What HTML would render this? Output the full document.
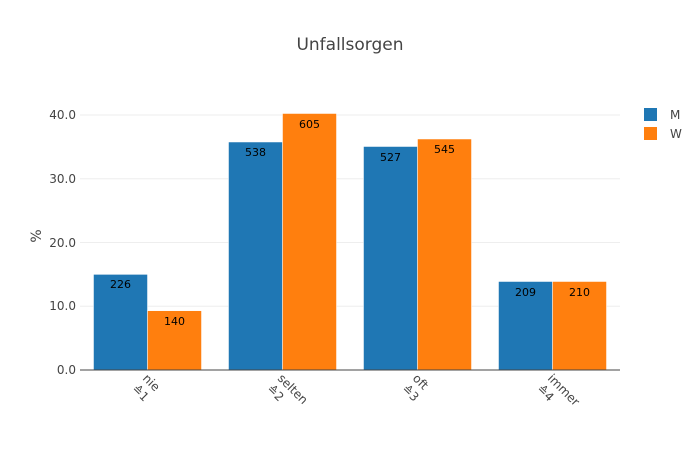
<!DOCTYPE html>
<html><head><meta charset="utf-8"><style>body{margin:0;background:#fff}svg{display:block;font-family:"DejaVu Sans","Liberation Sans",sans-serif}</style></head>
<body>
<svg width="700" height="450" xmlns="http://www.w3.org/2000/svg">
<rect width="700" height="450" fill="#fff"/>
<g stroke="#eee" stroke-width="1">
<line x1="80" x2="620" y1="306.25" y2="306.25"/>
<line x1="80" x2="620" y1="242.5" y2="242.5"/>
<line x1="80" x2="620" y1="178.75" y2="178.75"/>
<line x1="80" x2="620" y1="115" y2="115"/>
</g>
<g stroke="#fff" stroke-width="0.5">
<rect x="93.5" y="274.4" width="54" height="95.6" fill="#1f77b4"/>
<rect x="147.5" y="310.7" width="54" height="59.3" fill="#ff7f0e"/>
<rect x="228.5" y="142" width="54" height="228" fill="#1f77b4"/>
<rect x="282.5" y="113.5" width="54" height="256.5" fill="#ff7f0e"/>
<rect x="363.5" y="146.5" width="54" height="223.5" fill="#1f77b4"/>
<rect x="417.5" y="139" width="54" height="231" fill="#ff7f0e"/>
<rect x="498.5" y="281.5" width="54" height="88.5" fill="#1f77b4"/>
<rect x="552.5" y="281.5" width="54" height="88.5" fill="#ff7f0e"/>
</g>
<line x1="80" x2="620" y1="370" y2="370" stroke="#444" stroke-width="1"/>
<g font-size="11" fill="#000" text-anchor="middle">
<text x="120.5" y="288">226</text><text x="174.5" y="325">140</text>
<text x="255.5" y="156">538</text><text x="309.5" y="128">605</text>
<text x="390.5" y="161">527</text><text x="444.5" y="153">545</text>
<text x="525.5" y="296">209</text><text x="579.5" y="296">210</text>
</g>
<g font-size="12" fill="#444" text-anchor="end">
<text x="76" y="374">0.0</text><text x="76" y="310">10.0</text>
<text x="76" y="247">20.0</text><text x="76" y="183">30.0</text><text x="76" y="119">40.0</text>
</g>
<text transform="translate(41,236) rotate(-90)" font-size="14" fill="#444" text-anchor="middle">%</text>
<g font-size="12" fill="#444">
<g transform="translate(142,379) rotate(45)"><text x="0" y="0">nie</text><text x="0" y="15">≙1</text></g>
<g transform="translate(277,379) rotate(45)"><text x="0" y="0">selten</text><text x="0" y="15">≙2</text></g>
<g transform="translate(412,379) rotate(45)"><text x="0" y="0">oft</text><text x="0" y="15">≙3</text></g>
<g transform="translate(547,379) rotate(45)"><text x="0" y="0">immer</text><text x="0" y="15">≙4</text></g>
</g>
<text x="350" y="50" font-size="17" fill="#444" text-anchor="middle">Unfallsorgen</text>
<rect x="644" y="108" width="13" height="13" fill="#1f77b4"/>
<rect x="644" y="127" width="13" height="13" fill="#ff7f0e"/>
<g font-size="12" fill="#444"><text x="670" y="119">M</text><text x="670" y="138">W</text></g>
</svg>
</body></html>
